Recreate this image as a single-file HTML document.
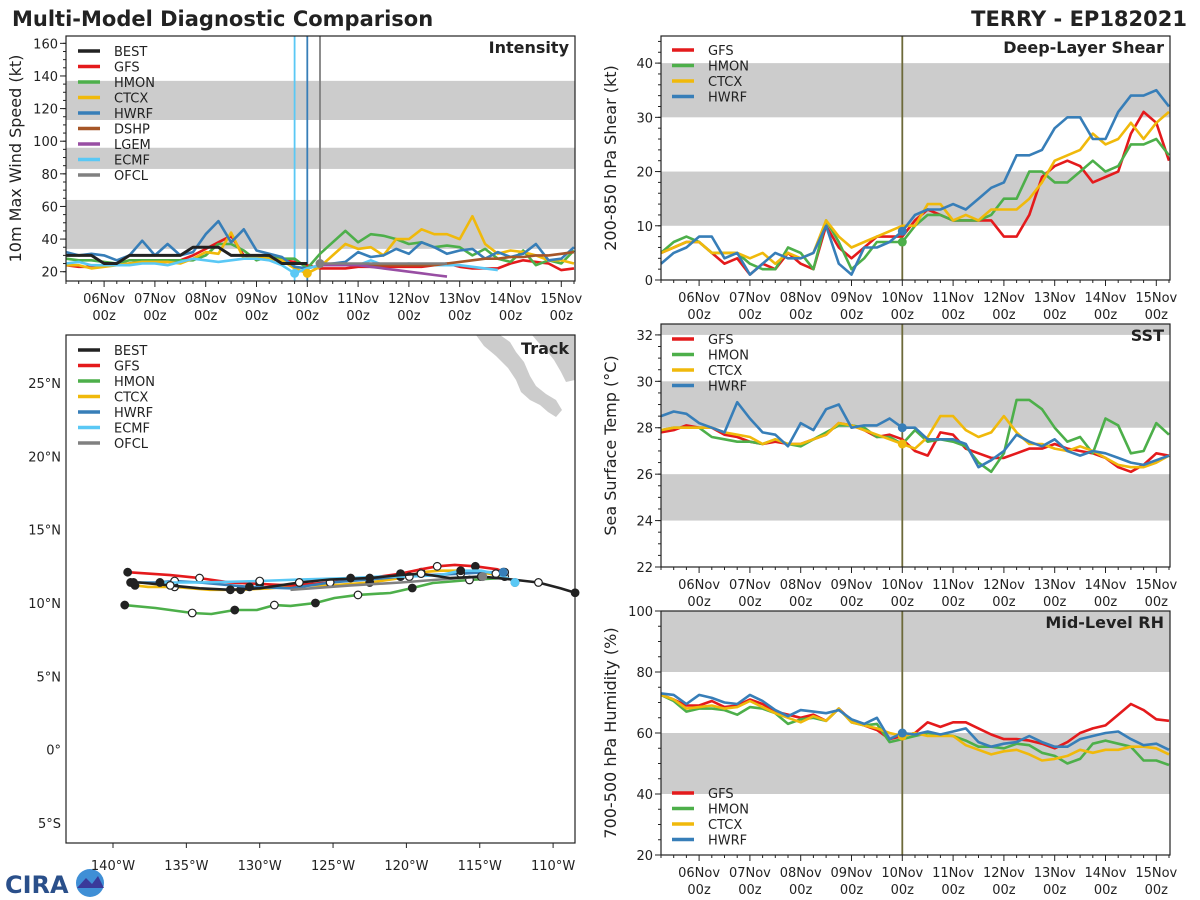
<!DOCTYPE html>
<html><head><meta charset="utf-8">
<style>
html,body{margin:0;padding:0;background:#fff;}
svg{display:block;font-family:"DejaVu Sans","Liberation Sans",sans-serif;}
</style></head>
<body>
<svg id="fig" width="1200" height="900" viewBox="0 0 1200 900">
<text x="12" y="26" font-size="21" font-weight="bold" fill="#222">Multi-Model Diagnostic Comparison</text>
<text x="1187" y="26" font-size="21" font-weight="bold" fill="#222" text-anchor="end">TERRY - EP182021</text>
<g>
<text x="5" y="893" font-size="24" font-weight="bold" fill="#2a4f8a">CIRA</text>
<circle cx="90" cy="883" r="14" fill="#3f8fd6"/>
<path d="M77 888 L86 878 L92 884 L98 876 L104 888 Z" fill="#3a3a9a"/>
</g>
</svg>
<script>
// ---------- DATA ----------
const dayLabels = ["06Nov","07Nov","08Nov","09Nov","10Nov","11Nov","12Nov","13Nov","14Nov","15Nov"];
// intensity (kt), 6-hourly from 05Nov 06z
const intBEST = [30,30,30,25,25,30,30,30,30,30,35,35,35,30,30,30,30,25,25,25];
const intGFS  = [24,23,23,24,24,25,26,26,26,27,30,34,38,42,30,28,28,27,26,24,22,22,22,23,23,23,23,23,23,24,25,23,22,22,22,25,27,26,25,21,22];
const intHMON = [28,27,27,26,25,27,27,27,27,27,27,30,37,37,33,27,29,28,28,22,31,38,45,38,43,42,40,37,38,35,36,35,30,34,28,26,33,24,27,25,33];
const intCTCX = [24,24,22,23,24,25,26,26,26,25,28,32,31,44,28,29,28,27,22,19,23,30,37,34,35,30,40,40,46,43,43,40,54,37,31,33,32,30,27,27,25];
const intHWRF = [32,30,31,30,27,30,39,30,37,30,32,43,51,38,46,33,31,29,23,22,24,25,26,32,29,30,34,31,38,35,31,33,34,28,32,29,31,37,27,28,35];
const intECMF = [25,26,24,24,24,24,25,25,24,26,28,27,26,27,28,28,27,24,19,22,24,24,24,24,27,24,24,25,24,24,24,24,23,22,21];
const intDSHP = [24,24,24,24,24,24,24,24,24,24,25,26,27,28,28,29,29,30,30,31,32];
const intLGEM = [24,24,24,24,23,22,21,20,19,18,17];
const intOFCL = [25,25,25,25,25,25,25,25,25,25,25];
const intTicks = [20,40,60,80,100,120,140,160];
// shear (kt)
const shrGFS  = [5,6,7,7,5,3,4,1,3,2,5,3,2,10,6,4,6,8,8,8,11,13,12,11,11,11,11,8,8,12,19,21,22,21,18,19,20,27,31,29,22];
const shrHMON = [5,7,8,7,5,5,5,3,2,2,6,5,2,11,7,2,4,7,7,7,10,12,12,11,11,11,12,15,15,20,20,18,18,20,22,20,21,25,25,26,23];
const shrCTCX = [5,6,7,7,5,5,5,4,5,3,5,4,5,11,8,6,7,8,9,10,10,14,14,11,12,11,13,13,13,15,18,22,23,24,27,25,26,29,26,29,31];
const shrHWRF = [3,5,6,8,8,4,5,1,3,5,4,4,5,10,3,1,6,6,7,9,12,13,13,14,13,15,17,18,23,23,24,28,30,30,26,26,31,34,34,35,32];
const shrTicks = [0,10,20,30,40];
// SST (C)
const sstGFS  = [27.8,27.9,28.1,28.0,28.0,27.7,27.6,27.4,27.3,27.4,27.3,27.3,27.5,27.7,28.2,28.1,27.9,27.6,27.7,27.5,27.0,26.8,27.8,27.7,27.1,26.9,26.7,26.7,26.9,27.1,27.1,27.3,27.1,27.0,26.9,26.7,26.3,26.1,26.4,26.9,26.8];
const sstHMON = [27.9,28.0,28.0,28.0,27.6,27.5,27.4,27.4,27.3,27.5,27.3,27.2,27.5,27.8,28.1,28.1,28.0,27.6,27.6,27.3,27.9,27.4,27.5,27.4,27.2,26.5,26.1,26.9,29.2,29.2,28.8,28.0,27.4,27.6,26.9,28.4,28.1,26.9,27.0,28.2,27.7];
const sstCTCX = [27.9,28.0,28.0,28.0,28.0,27.8,27.7,27.6,27.3,27.5,27.3,27.3,27.5,27.7,28.2,28.1,27.9,27.7,27.5,27.3,27.1,27.6,28.5,28.5,27.9,27.6,27.8,28.5,27.8,27.3,27.3,27.1,27.0,27.2,27.0,26.7,26.4,26.3,26.3,26.5,26.8];
const sstHWRF = [28.5,28.7,28.6,28.2,28.0,27.8,29.1,28.4,27.8,27.7,27.2,28.2,27.9,28.8,29.0,28.0,28.1,28.1,28.4,28.0,28.0,27.5,27.5,27.5,27.3,26.3,26.6,27.0,27.7,27.4,27.2,27.5,27.0,26.8,27.0,26.9,26.7,26.5,26.4,26.6,26.8];
const sstTicks = [22,24,26,28,30,32];
// RH (%)
const rhGFS  = [72.5,71,69,69,70.5,68.5,69,71,69.5,67,66,65,66,64,68,64,62.5,61,58,59,60,63.5,62,63.5,63.5,61.5,59.5,58,58,57.5,56.5,55,57,60,61.5,62.5,66,69.5,67.5,64.5,64];
const rhHMON = [72.5,70.5,67,68,68,67.5,66,68.5,68,66.5,63,64.5,65,64,68,63.5,62.5,63,57,58,59,60,59.5,59,57.5,55.5,55.5,55,56.5,56,53.5,52.5,50,51.5,56.5,57.5,56.5,55.5,51,51,49.5];
const rhCTCX = [72.5,71,68,68.5,69,68,68.5,70.5,68.5,66.5,65,63.5,65.5,64,68,63.5,62.5,61.5,60,59,60,59,59,59,56,54.5,53,54,54.5,53,51,51.5,52.5,54.5,53.5,54.5,54.5,55.5,55.5,55,53];
const rhHWRF = [73,72.5,69.5,72.5,71.5,70,69.5,72.5,70.5,67.5,65.5,67.5,67,66.5,67.5,64.5,63,65,58,60,59.5,60.5,59.5,60.5,61.5,57,55.5,56.5,57,59,57,55.5,55.5,58,59,60,60.5,58,56,56.5,54.5];
const rhTicks = [20,40,60,80,100];
// track (deg W, deg N)
const trkBESTlon = [138.6,138.2,136.1,134.1,132.0,130.0,127.3,125.2,122.5,120.4,119.0,117.0,114.9,112.8,111.0,109.5,108.5];
const trkBESTlat = [11.4,11.4,11.2,11.0,10.9,11.0,11.4,11.6,11.7,11.9,12.0,11.7,11.8,11.6,11.4,11.0,10.7];
const trkGFSlon = [139.0,136.1,134.1,132.0,130.0,127.9,125.2,122.5,120.4,119.0,117.9,116.7,115.3,113.8,113.3];
const trkGFSlat = [12.1,11.9,11.7,11.4,11.3,11.2,11.4,11.7,12.0,12.3,12.5,12.6,12.5,12.3,12.1];
const trkHMONlon = [139.2,137.1,134.6,133.3,131.7,130.2,129.0,127.9,126.2,124.9,123.3,121.1,119.6,118.2,115.7,113.6];
const trkHMONlat = [9.86,9.66,9.32,9.25,9.52,9.52,9.86,9.8,10.0,10.34,10.55,10.68,11.02,11.36,11.57,11.7];
const trkCTCXlon = [138.5,137.6,135.8,133.4,131.3,129.3,127.3,125.2,122.5,120.4,119.0,117.7,116.3,114.9,113.3];
const trkCTCXlat = [11.2,11.1,11.1,10.9,10.9,11.0,11.2,11.2,11.4,11.7,12.1,12.2,12.2,12.1,11.8];
const trkHWRFlon = [138.8,137.1,135.8,134.1,130.7,127.9,125.2,122.5,120.4,118.4,116.3,114.6,113.4];
const trkHWRFlat = [11.4,11.4,11.5,11.4,11.1,11.0,11.4,11.6,11.8,11.9,12.0,12.1,12.1];
const trkECMFlon = [136.8,134.1,130.0,127.3,123.8,121.8,119.8,117.7,116.3,114.9,113.9,112.9,112.6];
const trkECMFlat = [11.4,11.4,11.5,11.6,11.7,11.8,11.8,11.9,12.2,12.2,12.0,11.6,11.4];
const trkOFCLlon = [127.9,123.8,120.4,117.7,114.8];
const trkOFCLlat = [10.9,11.2,11.4,11.6,11.8];
const lonTicks = [140,135,130,125,120,115,110];
const latTicks = [25,20,15,10,5,0,-5];

const C = {BEST:"#222222",GFS:"#e41a1c",HMON:"#4daf4a",CTCX:"#f0b90b",HWRF:"#377eb8",DSHP:"#a65628",LGEM:"#984ea3",ECMF:"#5ac8f5",OFCL:"#808080"};
const NS = "http://www.w3.org/2000/svg";
const svg = document.getElementById("fig");
function mk(tag, attrs, parent){const e=document.createElementNS(NS,tag);for(const k in attrs)e.setAttribute(k,attrs[k]);(parent||svg).appendChild(e);return e;}

function timePanel(p){
  const g = mk("g",{});
  
  
  const xs = t => p.x0 + (t + 0.75) * 50.8;
  const ys = v => p.y1 - (v - p.vmin) / (p.vmax - p.vmin) * (p.y1 - p.y0);
  p.xs = xs; p.ys = ys;
  p.bands.forEach(b=>{
    const y1 = ys(Math.min(b[1],p.vmax)), y2 = ys(Math.max(b[0],p.vmin));
    const r = mk("rect",{x:p.x0,y:y1,width:p.x1-p.x0,height:y2-y1,fill:"#cccccc"},g);
    
    
  });
  p.ticks.forEach(v=>{
    const t = mk("line",{x1:p.x0-6,x2:p.x0,y1:ys(v),y2:ys(v),stroke:"#222","stroke-width":1},g);
    
    
    const l = mk("text",{x:p.x0-8,y:ys(v)+5,"font-size":13,"text-anchor":"end",fill:"#222"},g);
    l.textContent = v;
    
    
  });
  for(let v=p.ticks[0]; v<=p.vmax; v+=p.minor){
    if(v<p.vmin) continue;
    const t = mk("line",{x1:p.x0-3,x2:p.x0,y1:ys(v),y2:ys(v),stroke:"#222","stroke-width":1},g);
    
    
  }
  for(let i=0;i<=40;i++){
    const t=-0.75+i*0.25; const x=xs(t);
    const major = Math.abs(t-Math.round(t))<1e-6;
    const tk = mk("line",{x1:x,x2:x,y1:p.y1,y2:p.y1+(major?6:3),stroke:"#222","stroke-width":1},g);
    
    
  }
  dayLabels.forEach((d,k)=>{
    const x = xs(k);
    const l1 = mk("text",{x:x,y:p.y1+22,"font-size":13,"text-anchor":"middle",fill:"#222"},g);
    l1.textContent = d;
    
    
    const l2 = mk("text",{x:x,y:p.y1+39,"font-size":13,"text-anchor":"middle",fill:"#222"},g);
    l2.textContent = "00z";
    
    
  });
  const yt = mk("text",{x:0,y:0,"font-size":16,"text-anchor":"middle",fill:"#222",transform:`translate(${p.x0-45},${(p.y0+p.y1)/2}) rotate(-90)`},g);
  yt.textContent = p.ytitle;
  
  
  const pt = mk("text",{x:p.x1-6,y:p.y0+17,"font-size":16,"font-weight":"bold","text-anchor":"end",fill:"#222"},g);
  pt.textContent = p.title;
  
  
  p.g = g;
  return p;
}
function series(p, vals, start, color, name, w){
  const pts = vals.map((v,i)=>p.xs(-0.75+(start+i)*0.25).toFixed(1)+","+p.ys(v).toFixed(1)).join(" ");
  const pl = mk("polyline",{points:pts,fill:"none",stroke:color,"stroke-width":w||2.6,"stroke-linejoin":"round"},p.g);
  
  
}
function vline(p, t, color, name){
  const l = mk("line",{x1:p.xs(t),x2:p.xs(t),y1:p.y0,y2:p.y1,stroke:color,"stroke-width":1.8},p.g);
  
  
}
function dot(p, t, v, color, name){
  const c = mk("circle",{cx:p.xs(t),cy:p.ys(v),r:4.5,fill:color},p.g);
  
  
}
function frame(p){
  const r = mk("rect",{x:p.x0,y:p.y0,width:p.x1-p.x0,height:p.y1-p.y0,fill:"none",stroke:"#222","stroke-width":1.2},p.g);
  
  
}
function legend(g, x, y, step, names){
  names.forEach((n,k)=>{
    const l = mk("line",{x1:x,x2:x+22,y1:y+k*step,y2:y+k*step,stroke:C[n],"stroke-width":3.5},g);
    
    
    const t = mk("text",{x:x+36,y:y+k*step+5,"font-size":13,fill:"#222"},g);
    t.textContent = n;
    
    
  });
}

// ---------- INTENSITY ----------
const pI = timePanel({name:"intensity-panel",x0:66,x1:575,y0:36,y1:281,vmin:14.3,vmax:164.5,ticks:intTicks,minor:5,bands:[[34,64],[83,96],[113,137]],ytitle:"10m Max Wind Speed (kt)",title:"Intensity"});
vline(pI, 3.75, C.ECMF, "ecmf-init-line");
vline(pI, 4.0, C.HWRF, "init-time-line");
vline(pI, 4.25, C.OFCL, "ofcl-init-line");
series(pI,intGFS,0,C.GFS,"gfs-intensity-line");
series(pI,intHMON,0,C.HMON,"hmon-intensity-line");
series(pI,intCTCX,0,C.CTCX,"ctcx-intensity-line");
series(pI,intHWRF,0,C.HWRF,"hwrf-intensity-line");
series(pI,intECMF,0,C.ECMF,"ecmf-intensity-line");
series(pI,intDSHP,20,C.DSHP,"dshp-intensity-line");
series(pI,intLGEM,20,C.LGEM,"lgem-intensity-line");
series(pI,intOFCL,20,C.OFCL,"ofcl-intensity-line");
series(pI,intBEST,0,C.BEST,"best-intensity-line",3);
dot(pI,-0.75+18*0.25,intECMF[18],C.ECMF,"ecmf-init-point");
dot(pI,-0.75+19*0.25,intCTCX[19],C.CTCX,"ctcx-init-point");
dot(pI,-0.75+20*0.25,intOFCL[0],C.OFCL,"ofcl-init-point");
frame(pI);
legend(pI.g,78,51,15.5,["BEST","GFS","HMON","CTCX","HWRF","DSHP","LGEM","ECMF","OFCL"]);

// ---------- SHEAR ----------
const pS = timePanel({name:"shear-panel",x0:661,x1:1170,y0:36,y1:280,vmin:0,vmax:45,ticks:shrTicks,minor:2,bands:[[10,20],[30,40]],ytitle:"200-850 hPa Shear (kt)",title:"Deep-Layer Shear"});
vline(pS, 4.0, "#6d6a3a", "init-time-line");
series(pS,shrGFS,0,C.GFS,"gfs-shear-line");
series(pS,shrHMON,0,C.HMON,"hmon-shear-line");
series(pS,shrCTCX,0,C.CTCX,"ctcx-shear-line");
series(pS,shrHWRF,0,C.HWRF,"hwrf-shear-line");
dot(pS,4,shrHMON[19],C.HMON,"hmon-init-point");
dot(pS,4,shrHWRF[19],C.HWRF,"hwrf-init-point");
frame(pS);
legend(pS.g,672,50,15.5,["GFS","HMON","CTCX","HWRF"]);

// ---------- SST ----------
const pT = timePanel({name:"sst-panel",x0:661,x1:1170,y0:324,y1:567,vmin:22,vmax:32.47,ticks:sstTicks,minor:0.5,bands:[[24,26],[28,30],[32,33]],ytitle:"Sea Surface Temp (°C)",title:"SST"});
vline(pT, 4.0, "#6d6a3a", "init-time-line");
series(pT,sstGFS,0,C.GFS,"gfs-sst-line");
series(pT,sstHMON,0,C.HMON,"hmon-sst-line");
series(pT,sstCTCX,0,C.CTCX,"ctcx-sst-line");
series(pT,sstHWRF,0,C.HWRF,"hwrf-sst-line");
dot(pT,4,sstHWRF[19],C.HWRF,"hwrf-init-point");
dot(pT,4,sstCTCX[19],C.CTCX,"ctcx-init-point");
frame(pT);
legend(pT.g,672,339,15.5,["GFS","HMON","CTCX","HWRF"]);

// ---------- RH ----------
const pR = timePanel({name:"rh-panel",x0:661,x1:1170,y0:611,y1:855,vmin:20,vmax:100,ticks:rhTicks,minor:5,bands:[[40,60],[80,100]],ytitle:"700-500 hPa Humidity (%)",title:"Mid-Level RH"});
vline(pR, 4.0, "#6d6a3a", "init-time-line");
series(pR,rhGFS,0,C.GFS,"gfs-rh-line");
series(pR,rhHMON,0,C.HMON,"hmon-rh-line");
series(pR,rhCTCX,0,C.CTCX,"ctcx-rh-line");
series(pR,rhHWRF,0,C.HWRF,"hwrf-rh-line");
dot(pR,4,rhCTCX[19],C.CTCX,"ctcx-init-point");
dot(pR,4,rhHWRF[19],C.HWRF,"hwrf-init-point");
frame(pR);
legend(pR.g,672,793,15.5,["GFS","HMON","CTCX","HWRF"]);

// ---------- TRACK ----------
const tg = mk("g",{});


const TX0=66,TX1=575,TY0=335,TY1=843;
const lx = lonW => 113 + (140 - lonW) * 14.67;
const ly = lat => 603 - (lat - 10) * 14.67;
const clip = mk("clipPath",{id:"trkclip"},tg);
mk("rect",{x:TX0,y:TY0,width:TX1-TX0,height:TY1-TY0},clip);
const land = mk("path",{d:"M476 335 L500 335 L510 342 L516 352 L524 362 L530 376 L536 386 L546 394 L556 400 L562 410 L556 417 L548 412 L540 405 L530 400 L521 392 L516 380 L508 368 L496 356 L484 346 Z M532 335 L575 335 L575 380 L566 382 L561 372 L554 360 L546 350 L538 342 Z",fill:"#cccccc","clip-path":"url(#trkclip)"},tg);


lonTicks.forEach(v=>{
  const t = mk("line",{x1:lx(v),x2:lx(v),y1:TY1,y2:TY1+5,stroke:"#222"},tg);
  
  
  const l = mk("text",{x:lx(v),y:TY1+27,"font-size":13,"text-anchor":"middle",fill:"#222"},tg);
  l.textContent = v+"°W";
  
  
});
latTicks.forEach(v=>{
  const l = mk("text",{x:TX0-5,y:ly(v)+5,"font-size":13,"text-anchor":"end",fill:"#222"},tg);
  l.textContent = v===0?"0°":(Math.abs(v)+(v>0?"°N":"°S"));
  
  
});
function track(lon, lat, color, name, marks){
  const pts = lon.map((v,i)=>lx(v).toFixed(1)+","+ly(lat[i]).toFixed(1)).join(" ");
  const pl = mk("polyline",{points:pts,fill:"none",stroke:color,"stroke-width":2.6,"stroke-linejoin":"round"},tg);
  
  
  if(!marks) return;
  lon.forEach((v,i)=>{
    if(i%2) return;
    const open = (i/2)%2===1;
    const c = mk("circle",{cx:lx(v),cy:ly(lat[i]),r:3.8,fill:open?"#fff":"#222",stroke:"#222","stroke-width":1.2},tg);
    
    
  });
}
track(trkHMONlon,trkHMONlat,C.HMON,"hmon-track",true);
track(trkCTCXlon,trkCTCXlat,C.CTCX,"ctcx-track",true);
track(trkGFSlon,trkGFSlat,C.GFS,"gfs-track",true);
track(trkHWRFlon,trkHWRFlat,C.HWRF,"hwrf-track",true);
track(trkECMFlon,trkECMFlat,C.ECMF,"ecmf-track",true);
track(trkOFCLlon,trkOFCLlat,C.OFCL,"ofcl-track",false);
track(trkBESTlon,trkBESTlat,C.BEST,"best-track",true);
[[trkHWRFlon,trkHWRFlat,C.HWRF],[trkECMFlon,trkECMFlat,C.ECMF],[trkOFCLlon,trkOFCLlat,C.OFCL]].forEach(a=>{
  const n=a[0].length-1;
  const c = mk("circle",{cx:lx(a[0][n]),cy:ly(a[1][n]),r:4.5,fill:a[2]},tg);
  
  
});
const tf = mk("rect",{x:TX0,y:TY0,width:TX1-TX0,height:TY1-TY0,fill:"none",stroke:"#222","stroke-width":1.2},tg);


const tt = mk("text",{x:TX1-6,y:TY0+19,"font-size":16,"font-weight":"bold","text-anchor":"end",fill:"#222"},tg);
tt.textContent = "Track";


legend(tg,78,350,15.5,["BEST","GFS","HMON","CTCX","HWRF","ECMF","OFCL"]);
</script>
</body></html>
